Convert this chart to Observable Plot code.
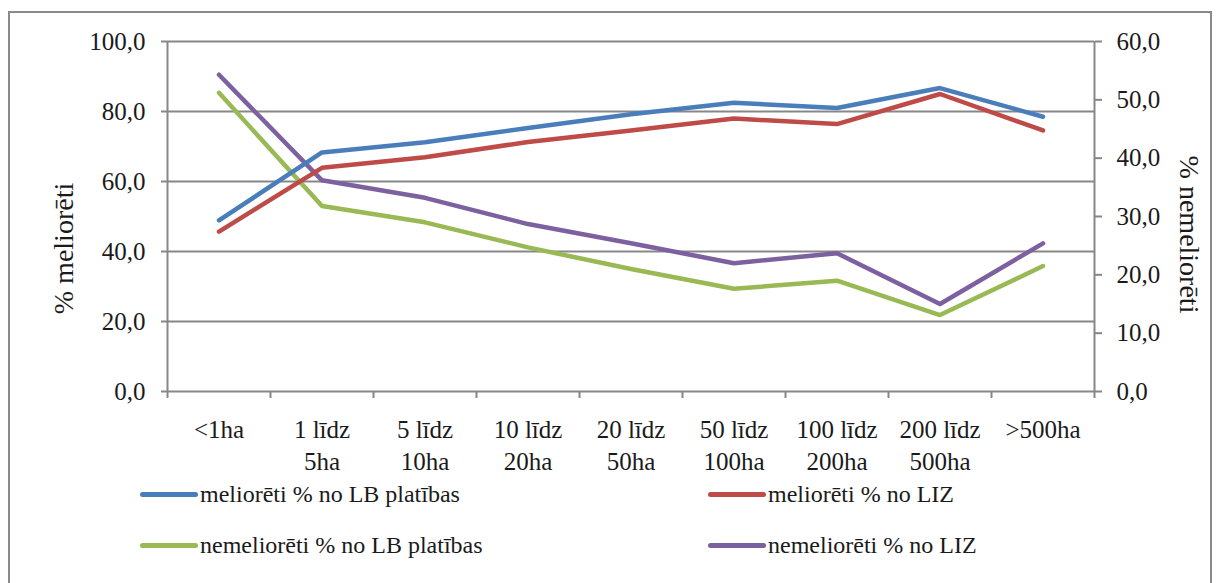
<!DOCTYPE html>
<html>
<head>
<meta charset="utf-8">
<script src="https://cdn.jsdelivr.net/npm/d3@7"></script>
<script src="https://cdn.jsdelivr.net/npm/@observablehq/plot@0.6"></script>
<style>
  html, body { margin: 0; padding: 0; background: #fff; }
  body { width: 1217px; height: 583px; position: relative; overflow: hidden;
         font-family: "Liberation Serif", "Times New Roman", serif; color: #1a1a1a; }
  #frame { position: absolute; left: 8px; top: 11px; width: 1204px; height: 640px;
           border: 2px solid #8a8a8a; box-sizing: border-box; }
  #chart { position: absolute; left: 0; top: 0; }
  #legend { position: absolute; left: 0; top: 474px; width: 1217px; height: 100px; }
  .item { position: absolute; display: flex; align-items: center; font-size: 24px; white-space: nowrap; }
  .sw { width: 58px; height: 5px; border-radius: 3px; margin-right: 2px; }
</style>
</head>
<body>
<div id="frame"></div>
<div id="chart"></div>
<div id="legend"></div>
<script>
// ---- data ----
const categories = ["<1ha", "1 līdz\n5ha", "5 līdz\n10ha", "10 līdz\n20ha", "20 līdz\n50ha",
                    "50 līdz\n100ha", "100 līdz\n200ha", "200 līdz\n500ha", ">500ha"];
const melioretiLB  = [48.9, 68.3, 71.2, 75.3, 79.2, 82.5, 81.0, 86.7, 78.5];
const melioretiLIZ = [45.7, 63.9, 66.9, 71.3, 74.6, 78.0, 76.4, 85.0, 74.6];
const nemelioretiLB  = [51.2, 31.8, 29.0, 24.7, 21.0, 17.6, 19.0, 13.1, 21.5];
const nemelioretiLIZ = [54.3, 36.2, 33.2, 28.7, 25.4, 22.0, 23.7, 15.0, 25.4];
const leftTicks  = [0, 20, 40, 60, 80, 100];
const rightTicks = [0, 10, 20, 30, 40, 50, 60];
const seriesNames = ["meliorēti % no LB platības", "meliorēti % no LIZ",
                     "nemeliorēti % no LB platības", "nemeliorēti % no LIZ"];
const seriesColors = ["#4a7ebb", "#be4b48", "#98b954", "#7d60a0"];
const leftTitle = "% meliorēti";
const rightTitle = "% nemeliorēti";

// ---- build rows ----
const leftMax = leftTicks[leftTicks.length - 1];
const rightMax = rightTicks[rightTicks.length - 1];
const k = leftMax / rightMax; // right axis -> left axis units
const seriesDefs = [
  {name: seriesNames[0], values: melioretiLB, axis: "left"},
  {name: seriesNames[1], values: melioretiLIZ, axis: "left"},
  {name: seriesNames[2], values: nemelioretiLB, axis: "right"},
  {name: seriesNames[3], values: nemelioretiLIZ, axis: "right"}
];
const drawOrder = [2, 3, 0, 1];
const rows = [];
for (const s of drawOrder.map(i => seriesDefs[i])) {
  s.values.forEach((v, i) => rows.push({series: s.name, x: i + 0.5, y: s.axis === "right" ? v * k : v}));
}
const fmt = d => d.toFixed(1).replace(".", ",");
const n = categories.length;
const gray = "#878787";

const chart = Plot.plot({
  width: 1217,
  height: 474,
  marginLeft: 167,
  marginRight: 123,
  marginTop: 41,
  marginBottom: 83,
  x: {type: "linear", domain: [0, n], axis: null},
  y: {domain: [0, leftMax], axis: null},
  color: {domain: seriesNames, range: seriesColors},
  style: {fontFamily: "'Liberation Serif', 'Times New Roman', serif", fontSize: "25px", color: "#1a1a1a", background: "transparent", overflow: "visible"},
  marks: [
    Plot.gridY(leftTicks, {stroke: gray, strokeOpacity: 1, strokeWidth: 2}),
    Plot.ruleX([0, n], {stroke: gray, strokeWidth: 2}),
    Plot.axisY(leftTicks, {anchor: "left", tickSize: 6, tickPadding: 16, tickFormat: fmt,
                           stroke: gray, strokeWidth: 2, label: null}),
    Plot.axisY(rightTicks.map(t => t * k), {anchor: "right", tickSize: 7, tickPadding: 15,
                           tickFormat: d => fmt(d / k), stroke: gray, strokeWidth: 2, label: null}),
    Plot.axisX(d3.range(0, n + 1), {anchor: "bottom", tickSize: 7, tickFormat: () => "",
                           stroke: gray, strokeWidth: 2, label: null}),
    Plot.axisX(d3.range(n).map(i => i + 0.5), {anchor: "bottom", tickSize: 0, tickPadding: 24,
                           tickFormat: d => categories[Math.floor(d)], lineHeight: 1.28, label: null}),
    Plot.line(rows, {x: "x", y: "y", z: "series", stroke: "series", strokeWidth: 4.5,
                     strokeLinejoin: "round", strokeLinecap: "round"}),
    Plot.text([leftTitle], {frameAnchor: "left", textAnchor: "middle", dx: -103, dy: 32, rotate: -90, fontSize: 28}),
    Plot.text([rightTitle], {frameAnchor: "right", textAnchor: "middle", dx: 94, dy: 18, rotate: 90, fontSize: 28})
  ]
});
document.getElementById("chart").appendChild(chart);

// ---- legend ----
const legend = document.getElementById("legend");
const pos = [[140, 23], [708, 23], [140, 74], [708, 74]];
seriesNames.forEach((name, i) => {
  const it = document.createElement("div");
  it.className = "item";
  it.style.left = pos[i][0] + "px";
  it.style.top = (pos[i][1] - 16) + "px";
  const sw = document.createElement("span");
  sw.className = "sw";
  sw.style.background = seriesColors[i];
  const t = document.createElement("span");
  t.textContent = name;
  it.appendChild(sw); it.appendChild(t);
  legend.appendChild(it);
});
</script>
</body>
</html>
